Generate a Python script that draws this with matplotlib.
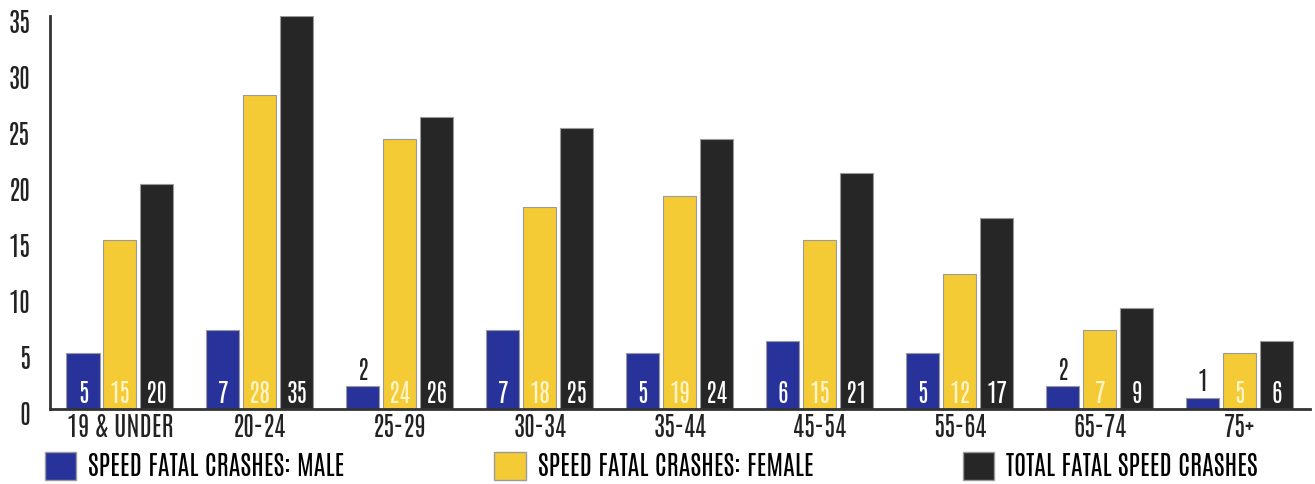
import numpy as np
import matplotlib.pyplot as plt
import matplotlib.transforms as mtransforms
from matplotlib.patches import Patch

plt.rcParams['font.family'] = ['Antonio', 'Oswald', 'DejaVu Sans']

ages = ['19 & UNDER', '20-24', '25-29', '30-34', '35-44', '45-54', '55-64', '65-74', '75+']
male = [5, 7, 2, 7, 5, 6, 5, 2, 1]
female = [15, 28, 24, 18, 19, 15, 12, 7, 5]
total = [20, 35, 26, 25, 24, 21, 17, 9, 6]
series_names = ['SPEED FATAL CRASHES: MALE', 'SPEED FATAL CRASHES: FEMALE', 'TOTAL FATAL SPEED CRASHES']

colors = ['#27339a', '#f4cb35', '#262626']
label_colors = ['white', '#fff4c8', 'white']

fig = plt.figure(figsize=(13.15, 4.85), dpi=100)
ax = fig.add_axes([0.038, 0.155, 0.958, 0.81])

x = np.arange(len(ages))
width = 0.236
step = 0.264

for i, (vals, col, lcol) in enumerate(zip([male, female, total], colors, label_colors)):
    pos = x + (i - 1) * step
    ax.bar(pos, vals, width, color=col, edgecolor='#9a9a9a', linewidth=0.8)
    for p, v in zip(pos, vals):
        if v <= 2:
            ax.text(p, v + 0.4, str(v), ha='center', va='bottom', fontsize=18, color='#222222')
        else:
            ax.text(p, 0.35, str(v), ha='center', va='bottom', fontsize=18, color=lcol,
                    fontweight='bold')

ax.set_xlim(-0.5, 8.5)
ax.set_ylim(0, 35)
ax.set_yticks(range(0, 36, 5))
ax.set_xticks(x)
ax.set_xticklabels(ages)
ax.tick_params(length=0, labelsize=19, colors='#222222')
ax.tick_params(axis='x', pad=3)
ax.tick_params(axis='y', pad=14)
# nudge the y labels down a little like the original
shift = mtransforms.ScaledTranslation(0, -3 / 72, fig.dpi_scale_trans)
for lab in ax.get_yticklabels():
    lab.set_transform(lab.get_transform() + shift)
for s in ['top', 'right']:
    ax.spines[s].set_visible(False)
for s in ['left', 'bottom']:
    ax.spines[s].set_color('#333333')
    ax.spines[s].set_linewidth(2)

# legend entries spread along the bottom
legend_x = [0.034, 0.376, 0.732]
for lx, name, col in zip(legend_x, series_names, colors):
    fig.legend(handles=[Patch(facecolor=col, edgecolor='#9a9a9a')], labels=[name],
               loc='center left', bbox_to_anchor=(lx, 0.037), frameon=False,
               fontsize=19, handlelength=1.2, handleheight=1.25, handletextpad=0.45,
               borderpad=0, borderaxespad=0)

fig.savefig('out.png', dpi=100)
